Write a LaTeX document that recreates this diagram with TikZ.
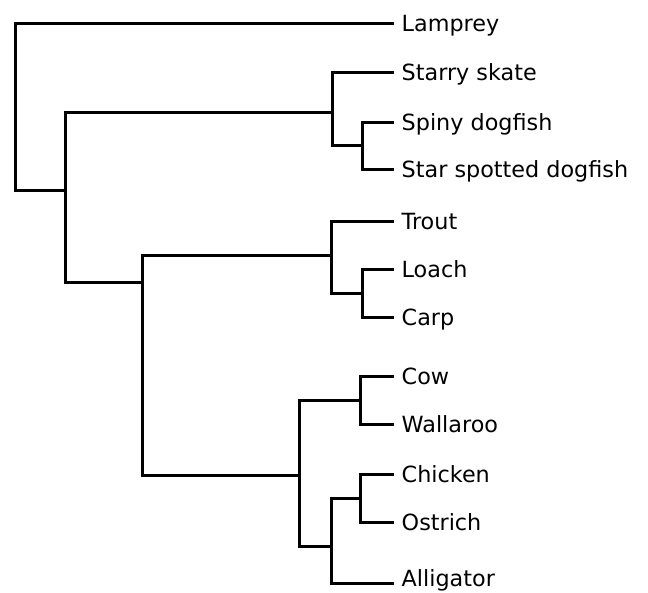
\documentclass[tikz,border=0pt]{standalone}
\usepackage{fontspec}
\setmainfont{DejaVu Sans}
\usetikzlibrary{positioning}

\begin{document}
\begin{tikzpicture}[x=1pt, y=-1pt]
        % Dendrogram styles
        \tikzset{
          branch/.style={black, line width=3pt, line cap=rect},
          taxon/.style={font=\fontsize{22.3}{26}\selectfont, anchor=base west, inner sep=0pt,
                        xshift=9.5pt, yshift=-8pt}
        }
        \useasboundingbox (0,0) rectangle (648,592);

        % Leaves
        \coordinate (lamp) at (392, 23);
        \coordinate (skat) at (392, 72);
        \coordinate (spin) at (392, 122);
        \coordinate (stsp) at (392, 169);
        \coordinate (trou) at (392, 221);
        \coordinate (loac) at (392, 269);
        \coordinate (carp) at (392, 317);
        \coordinate (cow)  at (392, 376);
        \coordinate (wall) at (392, 424);
        \coordinate (chic) at (392, 474);
        \coordinate (ostr) at (392, 522);
        \coordinate (alli) at (392, 583);
        \node[taxon] (tlamp) at (lamp) {Lamprey};
        \node[taxon] (tskat) at (skat) {Starry skate};
        \node[taxon] (tspin) at (spin) {Spiny dogfish};
        \node[taxon] (tstsp) at (stsp) {Star spotted dogfish};
        \node[taxon] (ttrou) at (trou) {Trout};
        \node[taxon] (tloac) at (loac) {Loach};
        \node[taxon] (tcarp) at (carp) {Carp};
        \node[taxon] (tcow)  at (cow)  {Cow};
        \node[taxon] (twall) at (wall) {Wallaroo};
        \node[taxon] (tchic) at (chic) {Chicken};
        \node[taxon] (tostr) at (ostr) {Ostrich};
        \node[taxon, yshift=5pt] (talli) at (alli) {Alligator};

        % Inner nodes
        \coordinate (root)  at (15, 106);
        \coordinate (jaws)  at (65, 190);
        \coordinate (shark) at (332, 112);
        \coordinate (dogf)  at (362, 145);
        \coordinate (bony)  at (142, 282);
        \coordinate (fish)  at (331, 255);
        \coordinate (cypr)  at (362, 293);
        \coordinate (tetra) at (299, 475);
        \coordinate (mamm)  at (360, 400);
        \coordinate (rept)  at (331, 546);
        \coordinate (bird)  at (360, 498);

        % Branches
        \draw[branch] (root) |- (lamp);
        \draw[branch] (root) |- (jaws);
        \draw[branch] (jaws) |- (shark);
        \draw[branch] (jaws) |- (bony);
        \draw[branch] (shark) |- (skat);
        \draw[branch] (shark) |- (dogf);
        \draw[branch] (dogf) |- (spin);
        \draw[branch] (dogf) |- (stsp);
        \draw[branch] (bony) |- (fish);
        \draw[branch] (bony) |- (tetra);
        \draw[branch] (fish) |- (trou);
        \draw[branch] (fish) |- (cypr);
        \draw[branch] (cypr) |- (loac);
        \draw[branch] (cypr) |- (carp);
        \draw[branch] (tetra) |- (mamm);
        \draw[branch] (tetra) |- (rept);
        \draw[branch] (mamm) |- (cow);
        \draw[branch] (mamm) |- (wall);
        \draw[branch] (rept) |- (bird);
        \draw[branch] (rept) |- (alli);
        \draw[branch] (bird) |- (chic);
        \draw[branch] (bird) |- (ostr);
      \end{tikzpicture}
\end{document}
